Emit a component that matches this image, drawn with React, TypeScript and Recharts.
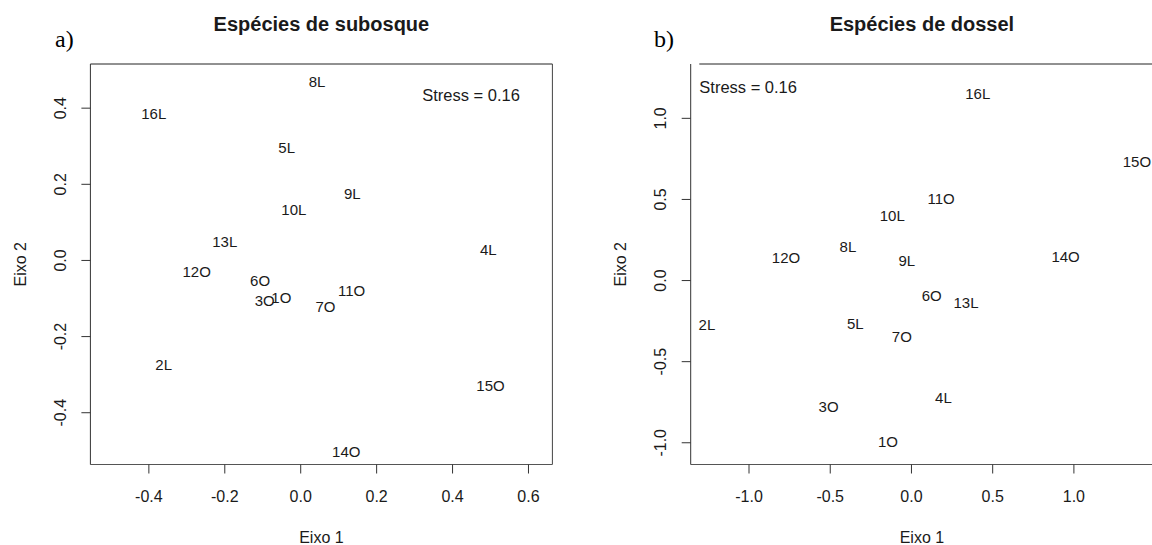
import React from 'react';
import { ScatterChart, Scatter, XAxis, YAxis, ReferenceLine } from 'recharts';

// ---- Panel a: Espécies de subosque ----
const labelsA = ['8L', '16L', '5L', '9L', '10L', '13L', '4L', '12O', '6O', '3O', '1O', '7O', '11O', '2L', '15O', '14O'];
const eixo1A = [0.043, -0.387, -0.037, 0.136, -0.018, -0.2, 0.494, -0.274, -0.107, -0.095, -0.051, 0.065, 0.134, -0.361, 0.5, 0.12];
const eixo2A = [0.471, 0.387, 0.297, 0.177, 0.133, 0.05, 0.03, -0.029, -0.053, -0.106, -0.097, -0.121, -0.079, -0.274, -0.329, -0.502];
const xTicksA = [-0.4, -0.2, 0.0, 0.2, 0.4, 0.6];
const yTicksA = [-0.4, -0.2, 0.0, 0.2, 0.4];
const xDomainA: [number, number] = [-0.554, 0.663];
const yDomainA: [number, number] = [-0.536, 0.516];

// ---- Panel b: Espécies de dossel ----
const labelsB = ['16L', '15O', '11O', '10L', '8L', '12O', '9L', '14O', '6O', '13L', '2L', '5L', '7O', '4L', '3O', '1O'];
const eixo1B = [0.408, 1.388, 0.183, -0.118, -0.391, -0.772, -0.029, 0.949, 0.125, 0.336, -1.259, -0.346, -0.059, 0.197, -0.51, -0.145];
const eixo2B = [1.155, 0.734, 0.507, 0.4, 0.209, 0.143, 0.123, 0.148, -0.092, -0.137, -0.273, -0.263, -0.345, -0.722, -0.779, -0.991];
const xTicksB = [-1.0, -0.5, 0.0, 0.5, 1.0];
const yTicksB = [-1.0, -0.5, 0.0, 0.5, 1.0];
const xDomainB: [number, number] = [-1.359, 1.487];
const yDomainB: [number, number] = [-1.134, 1.335];

const FONT = '"Liberation Sans", Arial, sans-serif';
const TXT = '#1a1a1a';

const build = (labels: string[], xs: number[], ys: number[]) =>
  labels.map((label, i) => ({ label, x: xs[i], y: ys[i] }));

const dataA = build(labelsA, eixo1A, eixo2A);
const dataB = build(labelsB, eixo1B, eixo2B);

const LabelShape = (props: any) => {
  const { cx, cy, payload } = props;
  return (
    <text x={cx} y={cy} textAnchor="middle" dominantBaseline="central" fontFamily={FONT} fontSize={15} fill={TXT}>
      {payload.label}
    </text>
  );
};

const XTick = (props: any) => {
  const { x, y, payload } = props;
  return (
    <text x={x} y={y + 26.5} textAnchor="middle" fontFamily={FONT} fontSize={16} fill={TXT}>
      {Number(payload.value).toFixed(1)}
    </text>
  );
};

const YTick = (props: any) => {
  const { x, y, payload } = props;
  const bx = x - 13.5;
  return (
    <text x={bx} y={y} transform={`rotate(-90 ${bx} ${y})`} textAnchor="middle" fontFamily={FONT} fontSize={16} fill={TXT}>
      {Number(payload.value).toFixed(1)}
    </text>
  );
};

type PanelProps = {
  data: { label: string; x: number; y: number }[];
  xTicks: number[];
  yTicks: number[];
  xDomain: [number, number];
  yDomain: [number, number];
  width: number;
  yAxisWidth: number;
  rightMargin: number;
  topStartX: number;
};

const Panel = ({ data, xTicks, yTicks, xDomain, yDomain, width, yAxisWidth, rightMargin, topStartX }: PanelProps) => (
  <ScatterChart width={width} height={545} margin={{ top: 64, right: rightMargin, bottom: 0, left: 0 }}>
    <XAxis
      type="number"
      dataKey="x"
      domain={xDomain}
      ticks={xTicks}
      interval={0}
      allowDataOverflow
      height={80.5}
      tickSize={9}
      axisLine={{ stroke: '#555', strokeWidth: 1 }}
      tickLine={{ stroke: '#333', strokeWidth: 1 }}
      tick={<XTick />}
    />
    <YAxis
      type="number"
      dataKey="y"
      domain={yDomain}
      ticks={yTicks}
      interval={0}
      allowDataOverflow
      width={yAxisWidth}
      tickSize={9}
      axisLine={{ stroke: '#333', strokeWidth: 1 }}
      tickLine={{ stroke: '#333', strokeWidth: 1 }}
      tick={<YTick />}
    />
    <ReferenceLine
      segment={[{ x: topStartX, y: yDomain[1] }, { x: xDomain[1], y: yDomain[1] }]}
      stroke="#222"
      strokeWidth={1}
      ifOverflow="visible"
    />
    <ReferenceLine
      segment={[{ x: xDomain[1], y: yDomain[0] }, { x: xDomain[1], y: yDomain[1] }]}
      stroke="#444"
      strokeWidth={1}
      ifOverflow="visible"
    />
    <Scatter data={data} shape={<LabelShape />} isAnimationActive={false} />
  </ScatterChart>
);

export default function App() {
  return (
    <div style={{ position: 'fixed', left: 0, top: 0, width: 1152, height: 545, overflow: 'hidden', background: '#fff' }}>
      <div style={{ position: 'absolute', left: 0, top: 0 }}>
        <Panel
          data={dataA}
          xTicks={xTicksA}
          yTicks={yTicksA}
          xDomain={xDomainA}
          yDomain={yDomainA}
          width={576}
          yAxisWidth={90.4}
          rightMargin={23.6}
          topStartX={xDomainA[0]}
        />
      </div>
      <div style={{ position: 'absolute', left: 576, top: 0 }}>
        <Panel
          data={dataB}
          xTicks={xTicksB}
          yTicks={yTicksB}
          xDomain={xDomainB}
          yDomain={yDomainB}
          width={600}
          yAxisWidth={114.7}
          rightMargin={23}
          topStartX={-1.306}
        />
      </div>
      <svg width={1152} height={545} style={{ position: 'absolute', left: 0, top: 0, pointerEvents: 'none' }}>
        <g fontFamily={FONT} fill={TXT}>
          <text x={321.4} y={30.5} textAnchor="middle" fontSize={20} fontWeight="bold">Espécies de subosque</text>
          <text x={921.9} y={30.5} textAnchor="middle" fontSize={20} fontWeight="bold">Espécies de dossel</text>
          <text x={321.4} y={542.5} textAnchor="middle" fontSize={16}>Eixo 1</text>
          <text x={921.9} y={542.5} textAnchor="middle" fontSize={16}>Eixo 1</text>
          <text x={26.5} y={264.3} transform="rotate(-90 26.5 264.3)" textAnchor="middle" fontSize={16}>Eixo 2</text>
          <text x={626} y={264.3} transform="rotate(-90 626 264.3)" textAnchor="middle" fontSize={16}>Eixo 2</text>
          <text x={471} y={101} textAnchor="middle" fontSize={16.5}>Stress = 0.16</text>
          <text x={699.3} y={92.7} textAnchor="start" fontSize={16.5}>Stress = 0.16</text>
        </g>
        <g fontFamily='"Liberation Serif", "Times New Roman", serif' fill="#000">
          <text x={55} y={47} fontSize={24}>a)</text>
          <text x={654} y={47} fontSize={24}>b)</text>
        </g>
      </svg>
    </div>
  );
}
